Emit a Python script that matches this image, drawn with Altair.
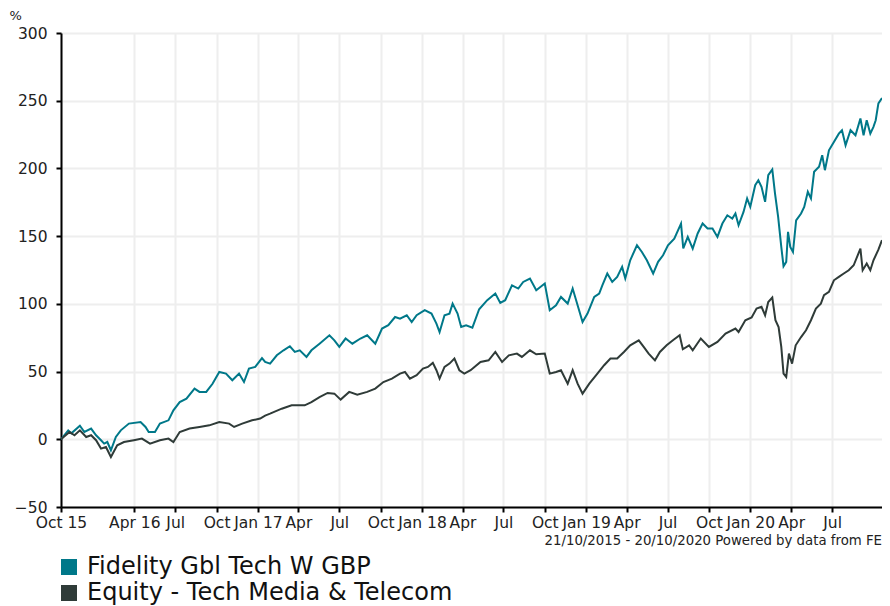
import altair as alt
import pandas as pd

FUND_NAME = "Fidelity Gbl Tech W GBP"
SECTOR_NAME = "Equity - Tech Media & Telecom"
TEAL = "#007889"
DARK = "#2f3b38"

FUND_DATES = [
    "2015-10-21", "2015-11-06", "2015-11-13", "2015-12-02", "2015-12-12", "2015-12-27",
    "2016-01-07", "2016-01-18", "2016-01-25", "2016-02-01", "2016-02-09", "2016-02-20",
    "2016-03-02", "2016-03-20", "2016-04-15", "2016-04-26", "2016-05-03", "2016-05-17",
    "2016-05-28", "2016-06-16", "2016-06-27", "2016-07-11", "2016-07-26", "2016-08-13",
    "2016-08-24", "2016-09-08", "2016-09-22", "2016-10-07", "2016-10-22", "2016-11-05",
    "2016-11-20", "2016-12-01", "2016-12-12", "2016-12-26", "2017-01-10", "2017-01-17",
    "2017-01-28", "2017-02-12", "2017-02-27", "2017-03-13", "2017-03-24", "2017-04-04",
    "2017-04-19", "2017-04-30", "2017-05-18", "2017-06-09", "2017-06-20", "2017-07-01",
    "2017-07-15", "2017-07-30", "2017-08-17", "2017-09-01", "2017-09-19", "2017-10-04",
    "2017-10-18", "2017-11-02", "2017-11-13", "2017-11-28", "2017-12-09", "2017-12-20",
    "2018-01-07", "2018-01-22", "2018-02-02", "2018-02-09", "2018-02-20", "2018-03-03",
    "2018-03-10", "2018-03-21", "2018-03-29", "2018-04-09", "2018-04-23", "2018-05-08",
    "2018-05-26", "2018-06-13", "2018-06-24", "2018-07-05", "2018-07-20", "2018-08-03",
    "2018-08-14", "2018-08-29", "2018-09-12", "2018-10-01", "2018-10-12", "2018-10-26",
    "2018-11-06", "2018-11-21", "2018-12-02", "2018-12-13", "2018-12-24", "2019-01-04",
    "2019-01-19", "2019-01-30", "2019-02-06", "2019-02-17", "2019-02-28", "2019-03-11",
    "2019-03-22", "2019-03-29", "2019-04-09", "2019-04-24", "2019-05-05", "2019-05-16",
    "2019-05-30", "2019-06-10", "2019-06-21", "2019-07-02", "2019-07-16", "2019-07-31",
    "2019-08-05", "2019-08-15", "2019-08-26", "2019-09-06", "2019-09-17", "2019-09-28",
    "2019-10-09", "2019-10-20", "2019-10-31", "2019-11-11", "2019-11-22", "2019-11-29",
    "2019-12-06", "2019-12-17", "2019-12-25", "2020-01-01", "2020-01-12", "2020-01-19",
    "2020-01-26", "2020-02-03", "2020-02-10", "2020-02-19", "2020-02-25", "2020-03-03",
    "2020-03-10", "2020-03-15", "2020-03-21", "2020-03-25", "2020-03-30", "2020-04-05",
    "2020-04-12", "2020-04-23", "2020-04-30", "2020-05-08", "2020-05-15", "2020-05-22",
    "2020-06-02", "2020-06-09", "2020-06-15", "2020-06-24", "2020-07-05", "2020-07-16",
    "2020-07-23", "2020-07-31", "2020-08-11", "2020-08-22", "2020-09-02", "2020-09-09",
    "2020-09-16", "2020-09-24", "2020-10-01", "2020-10-06", "2020-10-12", "2020-10-20",
]
FUND_VALUES = [
    0, 6.6, 4.4, 10, 5.4, 7.9,
    3, -0.7, -3.2, -2, -8.1, 1.7,
    6.6, 11.6, 12.8, 9.1, 5.4, 5.4,
    11.6, 14, 21.4, 27.5, 30, 37.4,
    35, 35, 41, 49.7, 48.5, 43.6,
    48.5, 42.3, 52.2, 53.4, 60, 57.1,
    55.9, 62, 65.7, 68.7, 64.5, 65.7,
    60.8, 65.7, 70.6, 76.8, 73.1, 68.2,
    74.4, 70.6, 74.4, 76.8, 70.6, 81.8,
    84.2, 90.3, 89.1, 91.6, 86.6, 91.6,
    95.3, 92.8, 85.4, 79.2, 91.6, 92.8,
    100.2, 92.8, 82.9, 84.2, 82.4, 96,
    102.7, 107.6, 100.7, 102.7, 113.7, 111.3,
    116.2, 118.7, 110, 115, 95.3, 99,
    105.1, 100.2, 111.3, 99, 86.6, 92.8,
    105.1, 107.6, 113.7, 122.4, 116.2, 119.9,
    127.3, 118.7, 132.2, 143.3, 138.3, 132.2,
    122.4, 131, 135.9, 143.3, 148.2, 159.3,
    141, 149.4, 140.8, 152, 159.3, 155.6,
    155.6, 149.4, 159.3, 165.4, 163, 166.7,
    158, 167.9, 177.8, 171.6, 187.6, 191.3,
    186.4, 175.3, 195, 199.2, 181.5, 164.2,
    142, 127.8, 131, 153.2, 142, 138.3,
    161.7, 166.7, 171.6, 182.7, 177.8, 197.5,
    201.2, 209.7, 198.7, 213.4, 219.6, 225.7,
    228.2, 217.1, 228.2, 224.5, 236.9, 224.5,
    235.6, 225.7, 230.7, 235.6, 248, 252,
]

SECTOR_DATES = [
    "2015-10-21", "2015-11-09", "2015-11-20", "2015-12-02", "2015-12-16", "2015-12-27",
    "2016-01-07", "2016-01-18", "2016-01-29", "2016-02-09", "2016-02-23", "2016-03-09",
    "2016-03-31", "2016-04-18", "2016-05-06", "2016-05-28", "2016-06-16", "2016-06-27",
    "2016-07-11", "2016-08-02", "2016-08-24", "2016-09-15", "2016-10-07", "2016-10-29",
    "2016-11-09", "2016-11-27", "2016-12-19", "2017-01-06", "2017-01-17", "2017-01-28",
    "2017-02-23", "2017-03-17", "2017-04-15", "2017-04-30", "2017-05-18", "2017-06-05",
    "2017-06-20", "2017-07-04", "2017-07-23", "2017-08-10", "2017-09-01", "2017-09-19",
    "2017-10-07", "2017-10-26", "2017-11-13", "2017-11-24", "2017-12-05", "2017-12-20",
    "2018-01-03", "2018-01-14", "2018-01-25", "2018-02-02", "2018-02-09", "2018-02-20",
    "2018-03-03", "2018-03-14", "2018-03-25", "2018-04-05", "2018-04-19", "2018-05-11",
    "2018-05-29", "2018-06-13", "2018-06-28", "2018-07-13", "2018-07-31", "2018-08-11",
    "2018-08-29", "2018-09-12", "2018-10-01", "2018-10-12", "2018-10-26", "2018-11-06",
    "2018-11-21", "2018-12-02", "2018-12-13", "2018-12-24", "2019-01-08", "2019-01-26",
    "2019-02-10", "2019-02-24", "2019-03-11", "2019-03-26", "2019-04-09", "2019-04-28",
    "2019-05-09", "2019-05-20", "2019-06-03", "2019-06-14", "2019-06-29", "2019-07-13",
    "2019-07-28", "2019-08-04", "2019-08-18", "2019-08-26", "2019-09-13", "2019-10-01",
    "2019-10-20", "2019-11-07", "2019-11-29", "2019-12-06", "2019-12-21", "2020-01-04",
    "2020-01-15", "2020-01-26", "2020-02-03", "2020-02-10", "2020-02-19", "2020-02-26",
    "2020-03-04", "2020-03-10", "2020-03-15", "2020-03-21", "2020-03-27", "2020-04-03",
    "2020-04-11", "2020-04-23", "2020-05-04", "2020-05-15", "2020-05-26", "2020-06-06",
    "2020-06-13", "2020-06-24", "2020-07-05", "2020-07-16", "2020-07-27", "2020-08-07",
    "2020-08-18", "2020-09-02", "2020-09-07", "2020-09-16", "2020-09-24", "2020-10-01",
    "2020-10-12", "2020-10-20",
]
SECTOR_VALUES = [
    0, 5.4, 3, 6.6, 1.7, 3,
    -0.7, -6.9, -5.7, -13.1, -4.4, -2,
    -0.7, 0.5, -3.2, -0.7, 0.5, -2,
    5.4, 7.9, 9.1, 10.3, 12.8, 11.6,
    9.1, 11.6, 14, 15.3, 17.5, 18.9,
    22.6, 25.1, 25.1, 27.5, 31.2, 34.2,
    33.7, 29.3, 35, 33, 35, 37.4,
    42.3, 44.8, 48.5, 49.7, 44.8, 47.3,
    52.2, 53.4, 56.4, 51, 44.8, 53.4,
    55.9, 59.6, 51, 48.5, 51, 57.1,
    58.3, 64.5, 57.1, 62, 63.3, 60.8,
    65.7, 62.8, 63.3, 48.5, 49.7, 51,
    41.1, 51, 41.1, 33.7, 41.1, 48.5,
    54.7, 59.6, 59.6, 64.5, 69.4, 73.1,
    68.2, 63.3, 58.3, 64.5, 69.4, 73.1,
    76.8, 66.5, 69.4, 65.7, 74.4, 68.2,
    71.9, 78, 81.8, 79.2, 87.9, 89.9,
    96.5, 97.8, 91.6, 101.4, 104.7, 87.9,
    82.9, 68.2, 48.5, 46, 63.3, 55.9,
    69.4, 75.5, 80.5, 87.9, 96.5, 100.2,
    106.4, 108.8, 117.4, 119.9, 122.4, 124.8,
    128.5, 140.8, 124.8, 129.8, 124.8, 132.2,
    140, 147,
]

X_DOMAIN = ["2015-10-21", "2020-10-20"]
TICK_DATES = [
    "2015-10-21", "2016-04-01", "2016-07-01", "2016-10-01",
    "2017-01-01", "2017-04-01", "2017-07-01", "2017-10-01",
    "2018-01-01", "2018-04-01", "2018-07-01", "2018-10-01",
    "2019-01-01", "2019-04-01", "2019-07-01", "2019-10-01",
    "2020-01-01", "2020-04-01", "2020-07-01",
]
TICK_LABELS = [
    "Oct 15", "Apr 16", "Jul", "Oct",
    "Jan 17", "Apr", "Jul", "Oct",
    "Jan 18", "Apr", "Jul", "Oct",
    "Jan 19", "Apr", "Jul", "Oct",
    "Jan 20", "Apr", "Jul",
]
Y_TICKS = [-50, 0, 50, 100, 150, 200, 250, 300]
CAPTION = "21/10/2015 - 20/10/2020 Powered by data from FE"
FONT = "DejaVu Sans"

PLOT_W = 821
PLOT_H = 474


def ms(d):
    return int(pd.Timestamp(d, tz="UTC").value // 10**6)


df = pd.concat([
    pd.DataFrame({"date": FUND_DATES, "value": FUND_VALUES, "series": FUND_NAME}),
    pd.DataFrame({"date": SECTOR_DATES, "value": SECTOR_VALUES, "series": SECTOR_NAME}),
], ignore_index=True)

label_expr = (
    "[" + ",".join("'%s'" % l for l in TICK_LABELS) + "]"
    "[indexof([" + ",".join("'%s'" % d for d in TICK_DATES) + "], utcFormat(datum.value, '%Y-%m-%d'))]"
)

lines = alt.Chart(df).mark_line(strokeWidth=2).encode(
    x=alt.X(
        "date:T",
        scale=alt.Scale(type="utc", domain=[ms(d) for d in X_DOMAIN]),
        axis=alt.Axis(
            values=[ms(d) for d in TICK_DATES],
            labelExpr=label_expr,
            title=None,
            labelOverlap=False,
            labelFlush=False,
            labelPadding=3,
        ),
    ),
    y=alt.Y(
        "value:Q",
        scale=alt.Scale(domain=[-50, 300], nice=False, zero=False),
        axis=alt.Axis(
            values=Y_TICKS,
            title="%",
            titleAngle=0,
            titleAlign="left",
            titleBaseline="middle",
            titleX=-52,
            titleY=-18,
            titleFontSize=13,
            titleFontWeight="normal",
            titleFont=FONT,
            titleColor="#222222",
            labelPadding=9,
        ),
    ),
    color=alt.Color(
        "series:N",
        scale=alt.Scale(domain=[FUND_NAME, SECTOR_NAME], range=[TEAL, DARK]),
        sort=[FUND_NAME, SECTOR_NAME],
        legend=alt.Legend(
            title=None,
            orient="none",
            legendX=-4,
            legendY=522,
            symbolType="square",
            symbolSize=64,
            symbolStrokeWidth=8,
            labelFontSize=24,
            labelFont=FONT,
            labelColor="#111111",
            labelOffset=6,
            clipHeight=24,
            rowPadding=2,
            labelLimit=600,
        ),
    ),
)

caption = alt.Chart(pd.DataFrame({"t": [CAPTION]})).mark_text(
    align="right", baseline="middle", fontSize=13.3, font=FONT, color="#222222"
).encode(x=alt.value(PLOT_W), y=alt.value(508), text="t:N")

chart = alt.layer(lines, caption).properties(
    width=PLOT_W,
    height=PLOT_H,
    autosize=alt.AutoSizeParams(type="none"),
    padding={"left": 53, "top": 25, "right": 0, "bottom": 99},
).configure_view(stroke=None).configure_axis(
    domainColor="#000000",
    domainWidth=2,
    tickColor="#000000",
    tickWidth=2,
    tickSize=5,
    labelFont=FONT,
    labelFontSize=15.5,
    labelColor="#222222",
    gridColor="#eeeeee",
    gridWidth=2,
)

chart.save("out.html", embed_options={"renderer": "svg", "actions": False})
